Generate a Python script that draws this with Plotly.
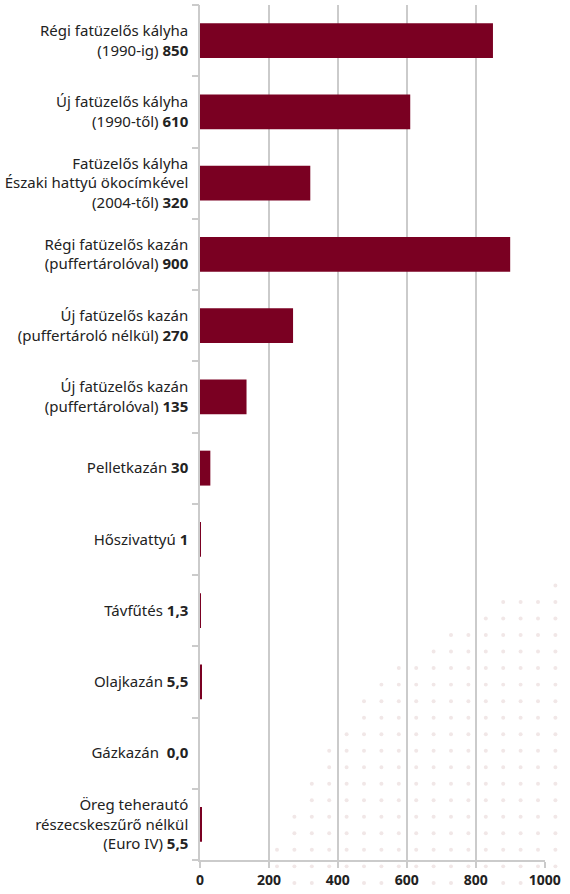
import plotly.graph_objects as go

# ---- data ----
categories = [
    "Régi fatüzelős kályha<br>(1990-ig) <b>850</b>",
    "Új fatüzelős kályha<br>(1990-től) <b>610</b>",
    "Fatüzelős kályha<br>Északi hattyú ökocímkével<br>(2004-től) <b>320</b>",
    "Régi fatüzelős kazán<br>(puffertárolóval) <b>900</b>",
    "Új fatüzelős kazán<br>(puffertároló nélkül) <b>270</b>",
    "Új fatüzelős kazán<br>(puffertárolóval) <b>135</b>",
    "Pelletkazán <b>30</b>",
    "Hőszivattyú <b>1</b>",
    "Távfűtés <b>1,3</b>",
    "Olajkazán <b>5,5</b>",
    "Gázkazán\u00a0\u00a0<b>0,0</b>",
    "Öreg teherautó<br>részecskeszűrő nélkül<br>(Euro IV) <b>5,5</b>",
]
values = [850, 610, 320, 900, 270, 135, 30, 1, 1.3, 5.5, 0, 5.5]
x_ticks = [0, 200, 400, 600, 800, 1000]

# ---- layout constants ----
W, H = 570, 894
ML, MR, MT, MB = 200, 25, 5, 30
BAR = "#7a0022"
GRID = "#cbcbcb"
TXT = "#222222"

fig = go.Figure(go.Bar(
    x=values, y=list(range(len(categories))), orientation="h",
    marker=dict(color=BAR, line=dict(width=0)),
    hoverinfo="skip",
))

# decorative dotted background (bottom-right)
plot_w = W - ML - MR
plot_h = H - MT - MB
row_start = [1, 0, 0, 1, 1, 2, 2, 3, 3, 4, 5, 5, 6, 7, 9, 10, 12, 13, 16]
shapes = []
for r, c0 in enumerate(row_start):
    py = 887 - 16.6 * r
    for c in range(c0, 17):
        px = 277 + 17.4 * c
        xp = (px - ML) / plot_w
        yp = (H - MB - py) / plot_h
        dx = 2.0 / plot_w
        dy = 2.0 / plot_h
        shapes.append(dict(type="circle", xref="paper", yref="paper",
                           x0=xp - dx, x1=xp + dx, y0=yp - dy, y1=yp + dy,
                           fillcolor="#f1e7e7", line=dict(width=0), layer="below"))

fig.update_layout(
    width=W, height=H,
    margin=dict(l=ML, r=MR, t=MT, b=MB, pad=0),
    paper_bgcolor="white", plot_bgcolor="rgba(0,0,0,0)",
    bargap=0.51, showlegend=False,
    font=dict(family="Noto Sans, Open Sans, sans-serif", size=15, color=TXT),
    shapes=shapes,
    xaxis=dict(
        range=[0, 1001], tickvals=x_ticks, ticktext=[f"<b>{v}</b>" for v in x_ticks],
        showgrid=True, gridcolor=GRID, gridwidth=1.5, zeroline=False,
        showline=True, linecolor=GRID, linewidth=1.5,
        ticks="outside", ticklen=6, tickcolor=GRID, tickwidth=1.5,
        tickfont=dict(size=14, color=TXT),
    ),
    yaxis=dict(
        type="linear", range=[len(categories) - 0.5, -0.5],
        tickvals=list(range(len(categories))), ticktext=categories,
        showgrid=False, zeroline=False,
        showline=True, linecolor=GRID, linewidth=1.5,
        ticks="", ticklabelstandoff=7,
        tickfont=dict(size=15, color=TXT),
    ),
)
# boundary tick marks on the y axis
fig.add_trace(go.Scatter(x=[None], y=[None], showlegend=False))
fig.update_layout(yaxis2=dict(overlaying="y", range=[len(categories) - 0.5, -0.5],
                              tickvals=[i - 0.5 for i in range(len(categories) + 1)],
                              ticktext=[""] * (len(categories) + 1),
                              ticks="outside", ticklen=7, tickcolor=GRID, tickwidth=1.5,
                              showgrid=False, zeroline=False, showline=False, side="left"))
fig.data[1].update(yaxis="y2")

fig.write_html("out.html", config={"displayModeBar": False},
               post_script="document.body.style.margin='0';")
